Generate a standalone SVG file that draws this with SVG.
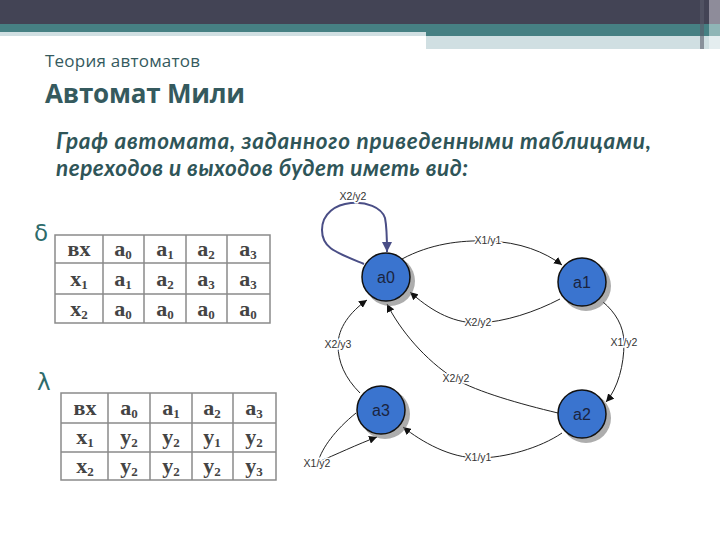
<svg xmlns="http://www.w3.org/2000/svg" width="720" height="540" viewBox="0 0 720 540">
<defs>
<style>
.hdr{font-family:"Open Sans","DejaVu Sans",sans-serif;fill:#355a5e}
.it{font-family:Lato,"Open Sans",sans-serif;font-style:italic;font-weight:bold;fill:#2f5558;font-size:22.5px}
.greek{font-family:"DejaVu Sans",sans-serif;fill:#2e6b6b;font-size:23px}
.tb{fill:#ffffff;stroke:#8a8a8a;stroke-width:1.5}
.tl{stroke:#8a8a8a;stroke-width:1.5}
.ct{font-family:"Liberation Serif","DejaVu Serif",serif;font-weight:bold;font-size:22px;fill:#444;text-anchor:middle}
.sub{font-size:13px}
.node{fill:#3a74cf;stroke:#111;stroke-width:1.5}
.shadow{fill:#777;opacity:0.6}
.nl{font-family:"Liberation Sans",Arial,sans-serif;font-size:16px;fill:#1a2440;text-anchor:middle}
.edge{fill:none;stroke:#222;stroke-width:1}
.loop{fill:none;stroke:#4a4e86;stroke-width:2}
.el{font-family:"Liberation Sans",Arial,sans-serif;font-size:10.5px;fill:#333;text-anchor:middle;paint-order:stroke;stroke:#fff;stroke-width:3px}
</style>
<marker id="ah" viewBox="0 0 10 10" refX="10" refY="5" markerWidth="8" markerHeight="8" orient="auto" markerUnits="userSpaceOnUse">
<path d="M0,0 L10,5 L0,10 z" fill="#111"/>
</marker>
<marker id="ahl" viewBox="0 0 10 10" refX="10" refY="5" markerWidth="10" markerHeight="10" orient="auto" markerUnits="userSpaceOnUse">
<path d="M0,0 L10,5 L0,10 z" fill="#4a4e86"/>
</marker>
</defs>
<rect width="720" height="540" fill="#ffffff"/>
<g id="header">
<rect x="0" y="0" width="720" height="24" fill="#434455"/>
<rect x="0" y="24" width="720" height="12" fill="#468083"/>
<rect x="0" y="32" width="426" height="4" fill="#d0dfe2"/>
<rect x="426" y="36" width="294" height="13" fill="#d0dfe2"/>
<rect x="700" y="0" width="4" height="49" fill="#5a5b6a" opacity="0.6"/>
<rect x="709" y="0" width="11" height="24" fill="#8e8c9a"/>
<rect x="709" y="24" width="11" height="12" fill="#8fb5b6"/>
<rect x="709" y="36" width="11" height="13" fill="#e4edef"/>
</g>
<text class="hdr" x="45" y="67" font-size="17" textLength="155">Теория автоматов</text>
<text class="hdr" x="45" y="103" font-size="26" font-weight="bold" textLength="200">Автомат Мили</text>
<text class="it" x="56" y="149" textLength="595">Граф автомата, заданного приведенными таблицами,</text>
<text class="it" x="56" y="176" textLength="412">переходов и выходов будет иметь вид:</text>
<text class="greek" x="34" y="241">δ</text>
<text class="greek" x="37" y="390">λ</text>
<g id="table-delta">
<rect class="tb" x="55" y="235" width="215" height="88"/>
<line class="tl" x1="55" y1="263" x2="270" y2="263"/>
<line class="tl" x1="55" y1="294" x2="270" y2="294"/>
<line class="tl" x1="103" y1="235" x2="103" y2="323"/>
<line class="tl" x1="144" y1="235" x2="144" y2="323"/>
<line class="tl" x1="186" y1="235" x2="186" y2="323"/>
<line class="tl" x1="227" y1="235" x2="227" y2="323"/>
<text class="ct" x="79" y="256" font-size="17">вх</text>
<text class="ct" x="123" y="256">a<tspan class="sub" dy="3">0</tspan></text>
<text class="ct" x="165" y="256">a<tspan class="sub" dy="3">1</tspan></text>
<text class="ct" x="206" y="256">a<tspan class="sub" dy="3">2</tspan></text>
<text class="ct" x="248" y="256">a<tspan class="sub" dy="3">3</tspan></text>
<text class="ct" x="79" y="286">x<tspan class="sub" dy="3">1</tspan></text>
<text class="ct" x="123" y="286">a<tspan class="sub" dy="3">1</tspan></text>
<text class="ct" x="165" y="286">a<tspan class="sub" dy="3">2</tspan></text>
<text class="ct" x="206" y="286">a<tspan class="sub" dy="3">3</tspan></text>
<text class="ct" x="248" y="286">a<tspan class="sub" dy="3">3</tspan></text>
<text class="ct" x="79" y="316">x<tspan class="sub" dy="3">2</tspan></text>
<text class="ct" x="123" y="316">a<tspan class="sub" dy="3">0</tspan></text>
<text class="ct" x="165" y="316">a<tspan class="sub" dy="3">0</tspan></text>
<text class="ct" x="206" y="316">a<tspan class="sub" dy="3">0</tspan></text>
<text class="ct" x="248" y="316">a<tspan class="sub" dy="3">0</tspan></text>
</g>
<g id="table-lambda">
<rect class="tb" x="61" y="393" width="215" height="87"/>
<line class="tl" x1="61" y1="423" x2="276" y2="423"/>
<line class="tl" x1="61" y1="452" x2="276" y2="452"/>
<line class="tl" x1="108" y1="393" x2="108" y2="480"/>
<line class="tl" x1="150" y1="393" x2="150" y2="480"/>
<line class="tl" x1="192" y1="393" x2="192" y2="480"/>
<line class="tl" x1="233" y1="393" x2="233" y2="480"/>
<text class="ct" x="85" y="415" font-size="17">вх</text>
<text class="ct" x="129" y="415">a<tspan class="sub" dy="3">0</tspan></text>
<text class="ct" x="171" y="415">a<tspan class="sub" dy="3">1</tspan></text>
<text class="ct" x="212" y="415">a<tspan class="sub" dy="3">2</tspan></text>
<text class="ct" x="254" y="415">a<tspan class="sub" dy="3">3</tspan></text>
<text class="ct" x="85" y="444">x<tspan class="sub" dy="3">1</tspan></text>
<text class="ct" x="129" y="444">y<tspan class="sub" dy="3">2</tspan></text>
<text class="ct" x="171" y="444">y<tspan class="sub" dy="3">2</tspan></text>
<text class="ct" x="212" y="444">y<tspan class="sub" dy="3">1</tspan></text>
<text class="ct" x="254" y="444">y<tspan class="sub" dy="3">2</tspan></text>
<text class="ct" x="85" y="473">x<tspan class="sub" dy="3">2</tspan></text>
<text class="ct" x="129" y="473">y<tspan class="sub" dy="3">2</tspan></text>
<text class="ct" x="171" y="473">y<tspan class="sub" dy="3">2</tspan></text>
<text class="ct" x="212" y="473">y<tspan class="sub" dy="3">2</tspan></text>
<text class="ct" x="254" y="473">y<tspan class="sub" dy="3">3</tspan></text>
</g>
<g id="connectors">
<path class="loop" d="M364,264 C335,252 322,248 322,230 C322,196 378,196 385,218 C387,228 387,240 387,252" marker-end="url(#ahl)"/>
<text class="el" x="353" y="200">X2/y2</text>
<path class="edge" d="M402,259 C430,244 460,240 488,241 C520,242 545,252 562,265" marker-end="url(#ah)"/>
<text class="el" x="488" y="244">X1/y1</text>
<path class="edge" d="M560,299 C535,312 505,322 478,323 C450,323 428,308 410,292" marker-end="url(#ah)"/>
<text class="el" x="478" y="326">X2/y2</text>
<path class="edge" d="M603,302 C615,312 624,326 624,343 C624,365 618,388 606,402" marker-end="url(#ah)"/>
<text class="el" x="624" y="346">X1/y2</text>
<path class="edge" d="M558,413 C520,404 478,392 455,379 C425,360 400,330 387,304" marker-end="url(#ah)"/>
<text class="el" x="456" y="382">X2/y2</text>
<path class="edge" d="M562,433 C540,448 505,458 478,458 C450,458 422,442 403,427" marker-end="url(#ah)"/>
<text class="el" x="478" y="461">X1/y1</text>
<path class="edge" d="M360,393 C345,378 338,362 338,345 C338,328 350,312 367,300" marker-end="url(#ah)"/>
<text class="el" x="338" y="348">X2/y3</text>
<path class="edge" d="M356,413 C335,430 322,448 318,462 C335,455 358,444 377,437" marker-end="url(#ah)"/>
<text class="el" x="317" y="467">X1/y2</text>
</g>
<g id="a0"><circle class="shadow" cx="390" cy="281" r="25"/><circle class="node" cx="386" cy="277" r="24"/><text class="nl" x="386" y="283">a0</text></g>
<g id="a1"><circle class="shadow" cx="586" cy="286" r="25"/><circle class="node" cx="582" cy="282" r="24"/><text class="nl" x="582" y="288">a1</text></g>
<g id="a2"><circle class="shadow" cx="586" cy="418" r="25"/><circle class="node" cx="582" cy="414" r="24"/><text class="nl" x="582" y="420">a2</text></g>
<g id="a3"><circle class="shadow" cx="385" cy="414" r="25"/><circle class="node" cx="381" cy="410" r="24"/><text class="nl" x="381" y="416">a3</text></g>
</svg>
